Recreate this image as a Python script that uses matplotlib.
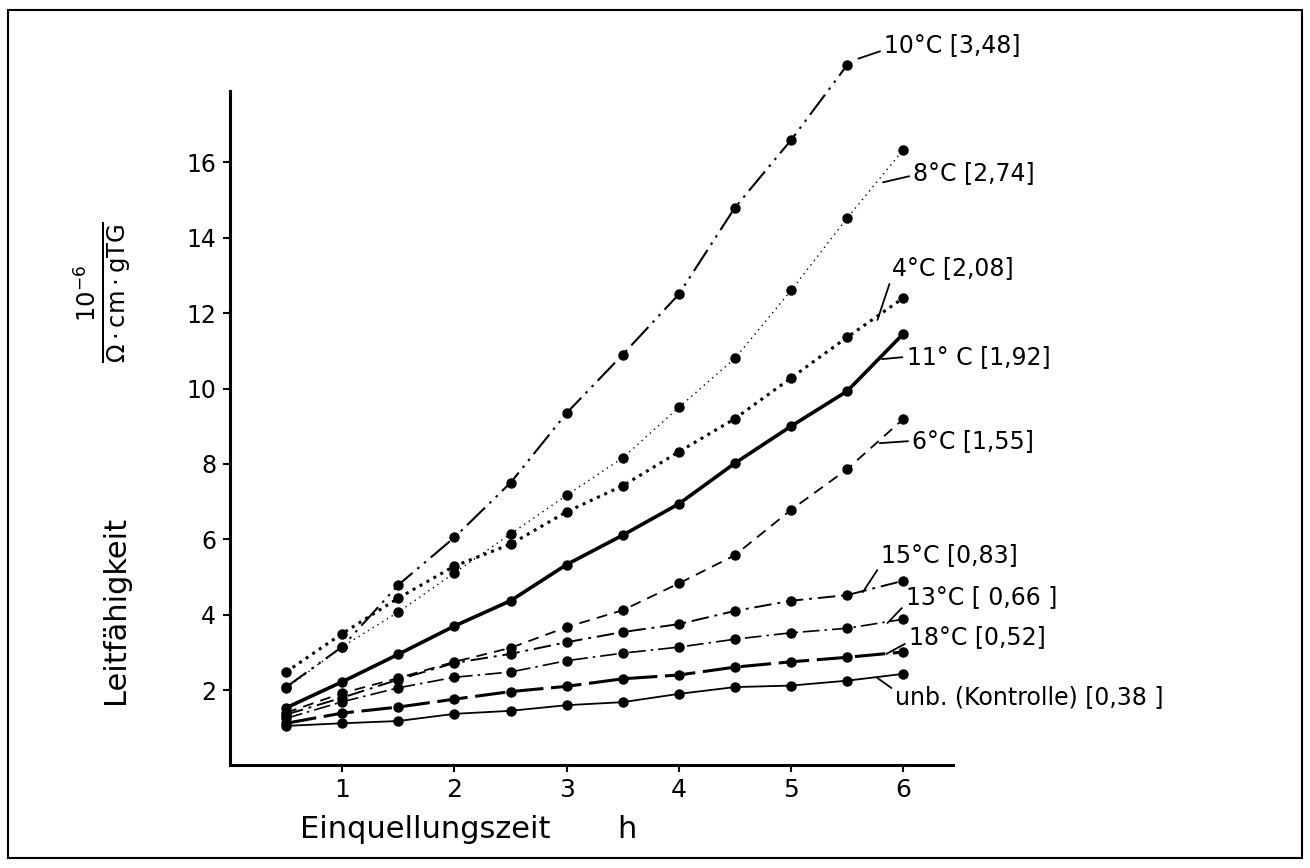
import matplotlib
matplotlib.use("Agg")
import matplotlib.pyplot as plt
from matplotlib.patches import Rectangle

plt.rcParams["font.family"] = ["DejaVu Sans"]

# ── data ────────────────────────────────────────────────────────────────────
HOURS = [0.5, 1, 1.5, 2, 2.5, 3, 3.5, 4, 4.5, 5, 5.5, 6]

T10 = [2.08, 3.15, 4.79, 6.05, 7.5, 9.35, 10.9, 12.5, 14.8, 16.59, 18.58]   # ends at 5.5 h
T8 = [2.05, 3.15, 4.07, 5.11, 6.14, 7.17, 8.16, 9.5, 10.8, 12.6, 14.52, 16.33]
T4 = [2.48, 3.5, 4.44, 5.29, 5.87, 6.73, 7.42, 8.32, 9.2, 10.28, 11.36, 12.4]
T11 = [1.53, 2.22, 2.95, 3.7, 4.37, 5.33, 6.11, 6.94, 8.02, 9.0, 9.93, 11.45]
T6 = [1.4, 1.92, 2.32, 2.75, 3.12, 3.67, 4.12, 4.83, 5.58, 6.78, 7.86, 9.19]
T15 = [1.35, 1.8, 2.28, 2.72, 2.96, 3.27, 3.54, 3.75, 4.1, 4.37, 4.52, 4.9]
T13 = [1.25, 1.69, 2.06, 2.34, 2.48, 2.78, 2.98, 3.14, 3.35, 3.52, 3.64, 3.88]
T18 = [1.12, 1.39, 1.55, 1.76, 1.96, 2.1, 2.3, 2.4, 2.61, 2.75, 2.87, 3.01]
CONTROL = [1.05, 1.12, 1.18, 1.37, 1.45, 1.6, 1.68, 1.9, 2.08, 2.12, 2.25, 2.43]

LABELS = ["10°C [3,48]", "8°C [2,74]", "4°C [2,08]", "11° C [1,92]", "6°C [1,55]",
          "15°C [0,83]", "13°C [ 0,66 ]", "18°C [0,52]", "unb. (Kontrolle) [0,38 ]"]
SERIES = [T10, T8, T4, T11, T6, T15, T13, T18, CONTROL]

# ── styles (line style, width) and label placement ───────────────────────────
STYLES = [
    ((0, (12, 3, 1.2, 3, 1.2, 3)), 1.5),
    ((0, (1, 3)), 1.0),
    ((0, (1, 1.6)), 2.2),
    ("-", 2.6),
    ((0, (6, 4)), 1.3),
    ((0, (9, 3, 1.5, 3)), 1.4),
    ((0, (10, 3, 1.5, 3)), 1.2),
    ((0, (10, 2.5)), 2.2),
    ("-", 1.3),
]
ANCHORS = [(5.60, 18.75), (5.82, 15.47), (5.77, 11.82), (5.81, 10.78), (5.79, 8.55),
           (5.64, 4.60), (5.86, 3.78), (5.85, 2.96), (5.77, 2.32)]
TEXTPOS = [(5.83, 19.11), (6.09, 15.72), (5.90, 13.2), (6.03, 10.84), (6.08, 8.61),
           (5.80, 5.58), (6.02, 4.47), (6.05, 3.41), (5.93, 1.82)]
RELPOS = [(0, 0.3), (0, 0.4), (0, 0.15), (0, 0.5), (0, 0.5),
          (0, 0.1), (0, 0.2), (0, 0.3), (0, 0.75)]

fig = plt.figure(figsize=(13.1, 8.68), dpi=100)
ax = fig.add_axes([0.1756, 0.1181, 0.5653, 0.8469])

for vals, (ls, lw) in zip(SERIES, STYLES):
    x = HOURS[:len(vals)]
    ax.plot(x, vals, color="black", linestyle=ls, linewidth=lw, zorder=3)
    ax.plot(x, vals, "o", color="black", markersize=6.5, zorder=4)

for lab, anc, pos, rp in zip(LABELS, ANCHORS, TEXTPOS, RELPOS):
    ax.annotate(lab, xy=anc, xytext=pos, fontsize=17, ha="left", va="center",
                annotation_clip=False,
                arrowprops=dict(arrowstyle="-", color="black", lw=1.3,
                                shrinkA=1, shrinkB=0, relpos=rp))

ax.set_xlim(0, 6.6)
ax.set_ylim(0, 19.5)
ax.spines["top"].set_visible(False)
ax.spines["right"].set_visible(False)
ax.spines["left"].set_linewidth(2.2)
ax.spines["bottom"].set_linewidth(2.2)
ax.spines["left"].set_bounds(0, 17.9)
ax.spines["bottom"].set_bounds(0, 6.44)

ax.set_xticks([1, 2, 3, 4, 5, 6])
ax.set_yticks([2, 4, 6, 8, 10, 12, 14, 16])
ax.tick_params(axis="both", direction="out", length=5, width=1.5)
ax.tick_params(axis="x", labelsize=18, pad=4)
ax.tick_params(axis="y", labelsize=17, pad=5)

fig.text(0.229, 0.044, "Einquellungszeit", fontsize=22, ha="left", va="center")
fig.text(0.471, 0.044, "h", fontsize=22, ha="left", va="center")
fig.text(0.088, 0.297, "Leitfähigkeit", fontsize=22, rotation=90,
         ha="center", va="center")
fig.text(0.078, 0.663, r"$\frac{10^{-6}}{\Omega\cdot\mathrm{cm}\cdot\mathrm{gTG}}$",
         fontsize=25, rotation=90, ha="center", va="center")

fig.add_artist(Rectangle((0.0061, 0.0115), 0.9878, 0.977, transform=fig.transFigure,
                         fill=False, edgecolor="black", linewidth=1.5))

fig.savefig("out.png", dpi=100)
